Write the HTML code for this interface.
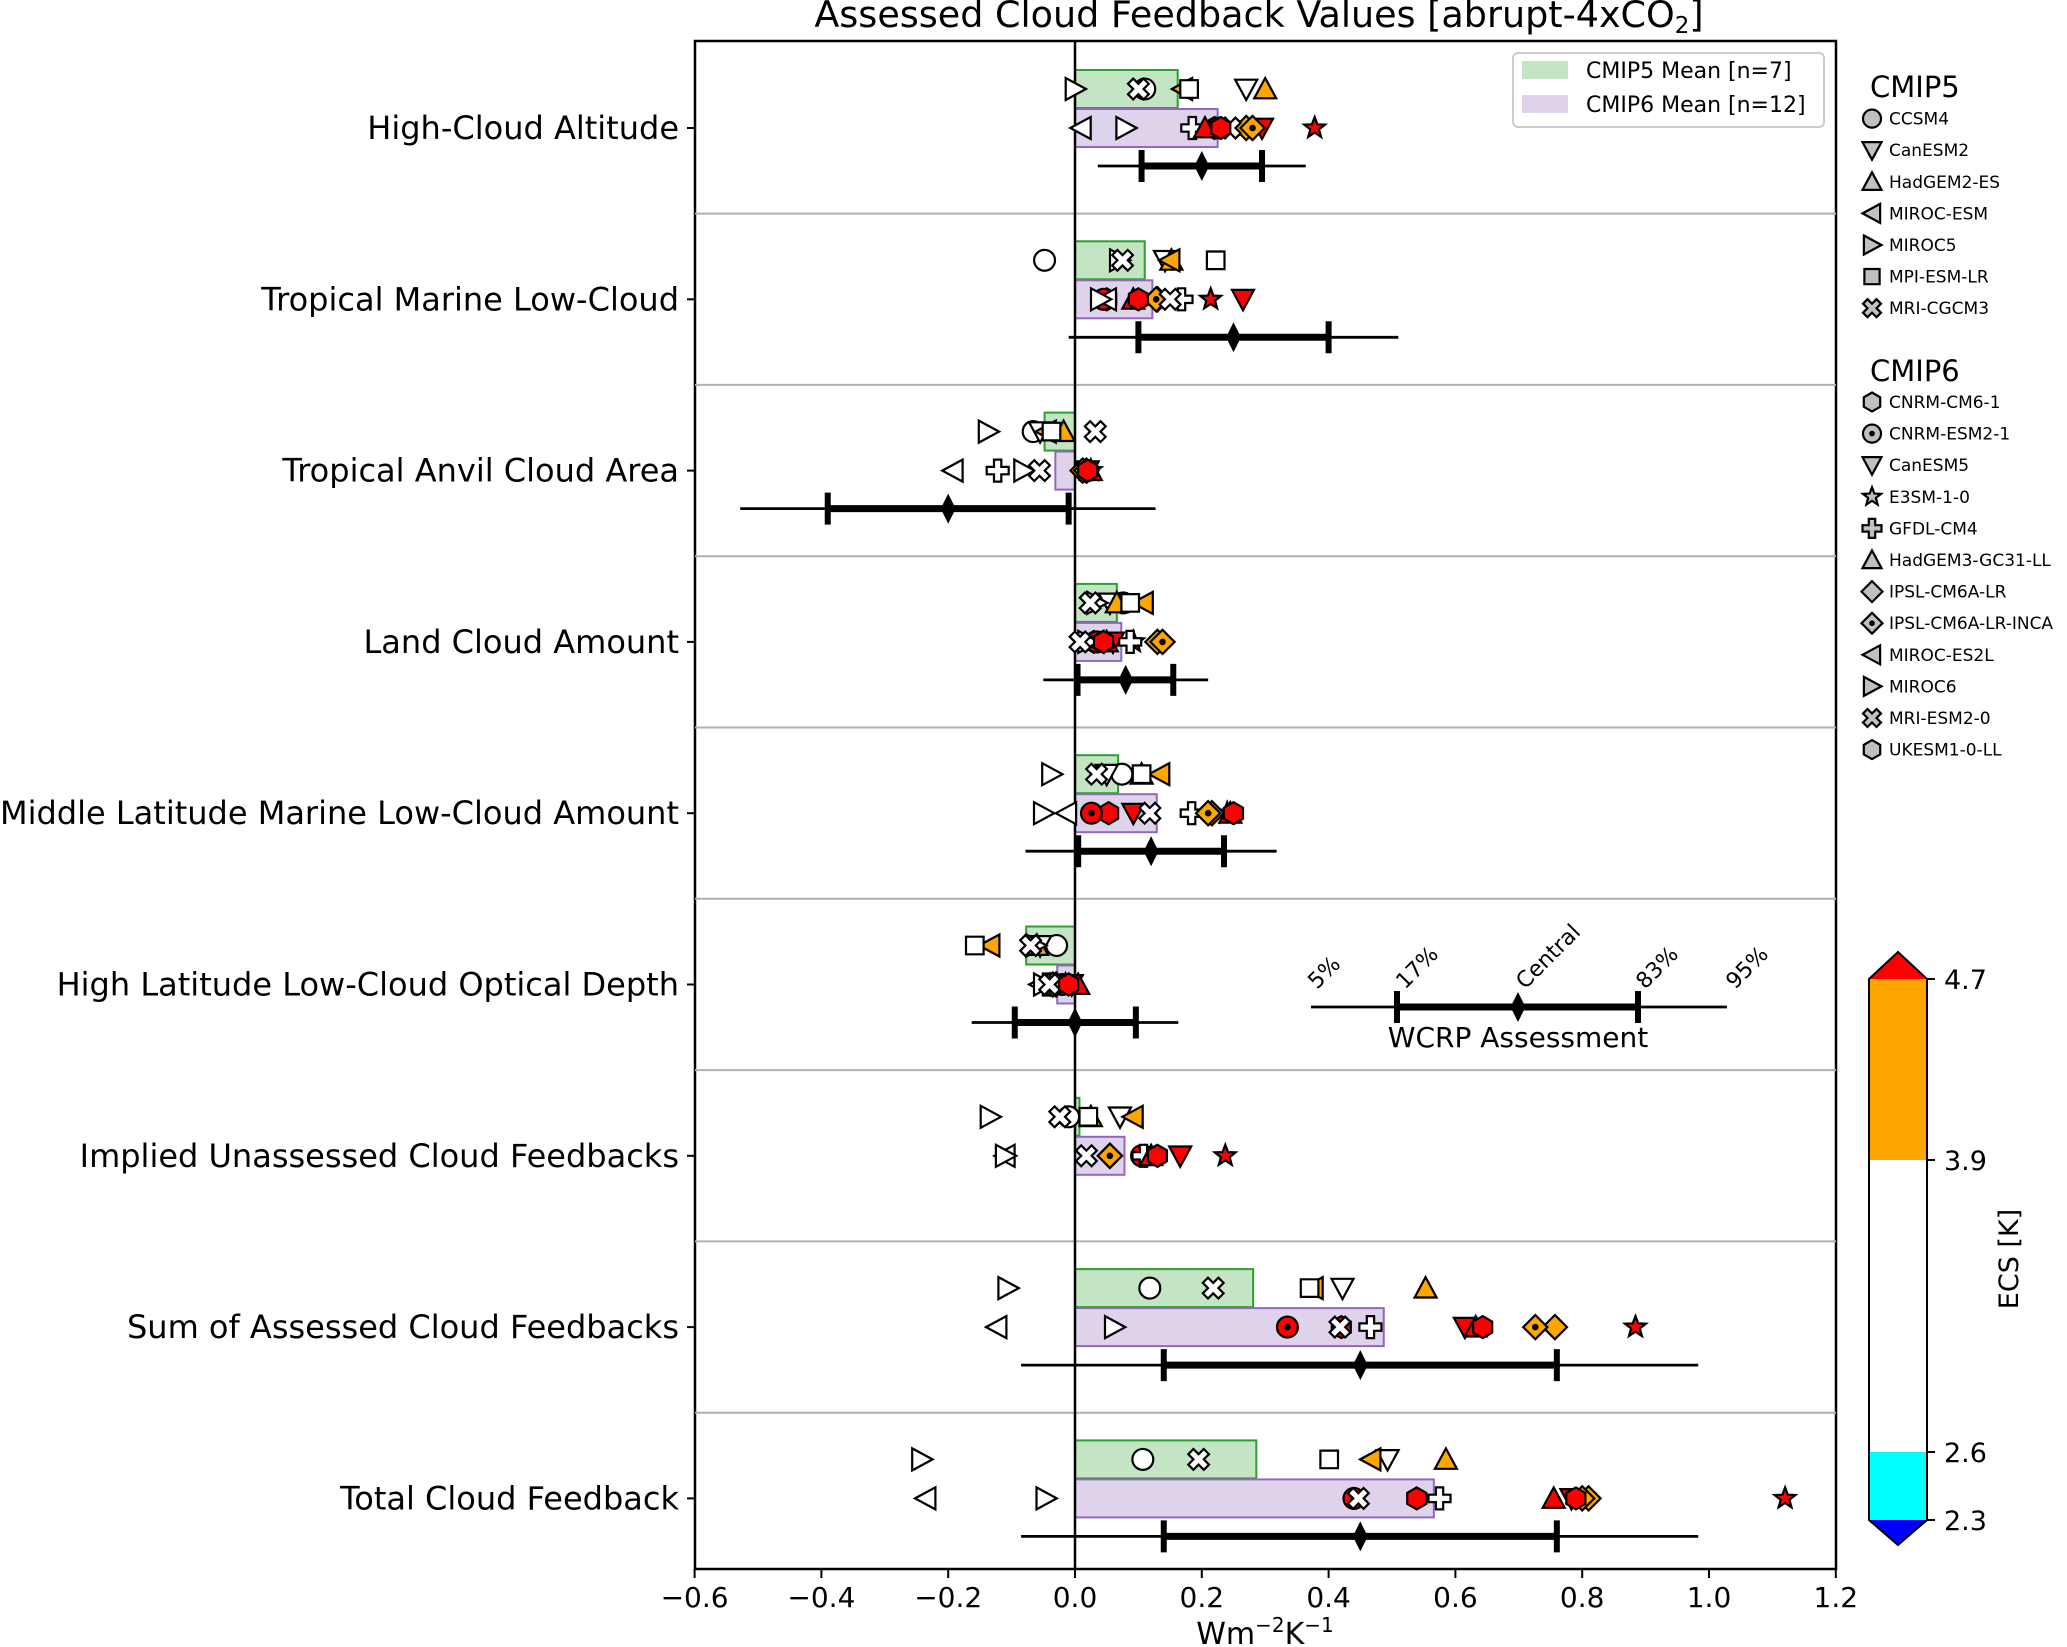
<!DOCTYPE html>
<html><head><meta charset="utf-8"><style>
html,body{margin:0;padding:0;background:#fff;}
svg{display:block;font-family:"DejaVu Sans","Liberation Sans",sans-serif;}
</style></head><body>
<svg id="chart" width="2067" height="1647" viewBox="0 0 2067 1647" xmlns="http://www.w3.org/2000/svg">
<text x="1259" y="27" font-size="36.5" text-anchor="middle">Assessed Cloud Feedback Values [abrupt-4xCO<tspan font-size="23" dy="6">2</tspan><tspan dy="-6">]</tspan></text>
<g id="plot"></g>
<text x="1265" y="1644" font-size="30" text-anchor="middle">Wm<tspan font-size="20" dy="-12">−2</tspan><tspan dy="12">K</tspan><tspan font-size="20" dy="-12">−1</tspan></text>
</svg>
<script>
const categories=["High-Cloud Altitude","Tropical Marine Low-Cloud","Tropical Anvil Cloud Area","Land Cloud Amount","Middle Latitude Marine Low-Cloud Amount","High Latitude Low-Cloud Optical Depth","Implied Unassessed Cloud Feedbacks","Sum of Assessed Cloud Feedbacks","Total Cloud Feedback"];
const cmip5Models=["CCSM4","CanESM2","HadGEM2-ES","MIROC-ESM","MIROC5","MPI-ESM-LR","MRI-CGCM3"];
const cmip5Markers=["circle","tdown","tup","tleft","tright","square","x"];
const cmip5Ecs=[2.9,3.7,4.6,4.7,2.7,3.6,2.6];
const cmip6Models=["CNRM-CM6-1","CNRM-ESM2-1","CanESM5","E3SM-1-0","GFDL-CM4","HadGEM3-GC31-LL","IPSL-CM6A-LR","IPSL-CM6A-LR-INCA","MIROC-ES2L","MIROC6","MRI-ESM2-0","UKESM1-0-LL"];
const cmip6Markers=["hexagon","cdot","tdown","star","plus","tup","diamond","ddot","tleft","tright","x","hexagon"];
const cmip6Ecs=[4.8,4.8,5.6,5.3,3.9,5.6,4.6,4.1,2.7,2.6,3.1,5.4];
const c5HighAlt=[0.11,0.27,0.30,0.17,0.00,0.18,0.10];
const c5TropLow=[-0.048,0.142,0.152,0.150,0.070,0.222,0.075];
const c5Anvil=[-0.066,-0.055,-0.018,-0.045,-0.137,-0.037,0.032];
const c5Land=[0.076,0.055,0.066,0.108,0.034,0.087,0.024];
const c5MidLat=[0.074,0.050,0.105,0.134,-0.037,0.105,0.034];
const c5HiLat=[-0.029,-0.055,-0.06,-0.134,-0.062,-0.158,-0.07];
const c5Unassessed=[-0.01,0.071,0.025,0.092,-0.134,0.021,-0.024];
const c5Sum=[0.118,0.422,0.553,0.376,-0.106,0.37,0.218];
const c5Total=[0.107,0.493,0.585,0.467,-0.242,0.401,0.195];
const c6HighAlt=[0.22,0.225,0.295,0.378,0.185,0.205,0.27,0.28,0.01,0.08,0.245,0.23];
const c6TropLow=[0.05,0.045,0.265,0.214,0.168,0.092,0.13,0.128,0.05,0.04,0.15,0.10];
const c6Anvil=[0.015,0.02,0.02,0.025,-0.122,0.025,0.012,0.018,-0.192,-0.081,-0.056,0.02];
const c6Land=[0.03,0.035,0.06,0.092,0.087,0.05,0.13,0.138,0.03,0.02,0.008,0.045];
const c6MidLat=[0.053,0.026,0.092,0.24,0.184,0.245,0.216,0.21,-0.013,-0.05,0.118,0.25];
const c6HiLat=[-0.01,-0.02,-0.005,-0.015,-0.045,0.005,-0.03,-0.035,-0.055,-0.05,-0.04,-0.01];
const c6Unassessed=[0.11,0.105,0.166,0.237,0.108,0.12,0.055,0.055,-0.11,-0.11,0.018,0.13];
const c6Sum=[0.42,0.335,0.615,0.884,0.466,0.632,0.757,0.726,-0.123,0.062,0.418,0.643];
const c6Total=[0.539,0.44,0.783,1.12,0.575,0.755,0.81,0.80,-0.235,-0.046,0.447,0.79];
const cmip5Values=[c5HighAlt,c5TropLow,c5Anvil,c5Land,c5MidLat,c5HiLat,c5Unassessed,c5Sum,c5Total];
const cmip6Values=[c6HighAlt,c6TropLow,c6Anvil,c6Land,c6MidLat,c6HiLat,c6Unassessed,c6Sum,c6Total];
const cmip5Means=[0.162,0.110,-0.048,0.066,0.068,-0.077,0.007,0.281,0.286];
const cmip6Means=[0.225,0.122,-0.031,0.073,0.129,-0.028,0.078,0.487,0.566];
const wcrpCentral=[0.20,0.25,-0.20,0.08,0.12,0.00,null,0.45,0.45];
const wcrpLikelyLo=[0.105,0.10,-0.39,0.004,0.005,-0.095,null,0.14,0.14];
const wcrpLikelyHi=[0.295,0.40,-0.01,0.155,0.235,0.096,null,0.76,0.76];
const wcrpVeryLo=[0.036,-0.01,-0.528,-0.05,-0.078,-0.163,null,-0.085,-0.085];
const wcrpVeryHi=[0.364,0.51,0.127,0.21,0.318,0.163,null,0.983,0.983];
const xTicks=[-0.6,-0.4,-0.2,0.0,0.2,0.4,0.6,0.8,1.0,1.2];
const ecsTicks=[2.3,2.6,3.9,4.7];

const NS="http://www.w3.org/2000/svg";
const plot=document.getElementById('plot');
const L=695,R=1836,T=41,B=1569;
const x=v=>1075+v*634;
const rowY=i=>128+i*171.3;
function el(tag,attrs,parent){const e=document.createElementNS(NS,tag);for(const k in attrs)e.setAttribute(k,attrs[k]);(parent||plot).appendChild(e);return e;}
function ecsColor(e){if(e<2.6)return"#00ffff";if(e<=3.9)return"#ffffff";if(e<=4.7)return"#ffa500";return"#ff0000";}
function poly(pts,cx,cy,s){return pts.map(p=>(cx+p[0]*s).toFixed(1)+","+(cy+p[1]*s).toFixed(1)).join(" ");}
const plusPts=[[-1/3,-1],[1/3,-1],[1/3,-1/3],[1,-1/3],[1,1/3],[1/3,1/3],[1/3,1],[-1/3,1],[-1/3,1/3],[-1,1/3],[-1,-1/3],[-1/3,-1/3]];
const xPts=plusPts.map(p=>{const c=Math.SQRT1_2;return[(p[0]-p[1])*c,(p[0]+p[1])*c];});
function starPts(){const a=[];for(let i=0;i<10;i++){const r=i%2?0.42:1,t=-Math.PI/2+i*Math.PI/5;a.push([r*Math.cos(t),r*Math.sin(t)]);}return a;}
function hexPts(){const a=[];for(let i=0;i<6;i++){const t=-Math.PI/2+i*Math.PI/3;a.push([Math.cos(t),Math.sin(t)]);}return a;}
function drawMarker(type,cx,cy,r,fill,g){
  const st={fill:fill,stroke:"#000","stroke-width":2.2};
  let m;
  const P=pts=>el('polygon',Object.assign({points:poly(pts,cx,cy,r)},st),g);
  if(type==="circle"){m=el('circle',Object.assign({cx:cx,cy:cy,r:r*0.95},st),g);}
  else if(type==="cdot"){m=el('circle',Object.assign({cx:cx,cy:cy,r:r*0.95},st),g);el('circle',{cx:cx,cy:cy,r:r*0.3,fill:"#000"},g);}
  else if(type==="tdown")m=P([[-1,-0.85],[1,-0.85],[0,1]]);
  else if(type==="tup")m=P([[0,-1],[1,0.85],[-1,0.85]]);
  else if(type==="tleft")m=P([[-1,0],[0.85,-1],[0.85,1]]);
  else if(type==="tright")m=P([[1,0],[-0.85,-1],[-0.85,1]]);
  else if(type==="square")m=P([[-0.8,-0.8],[0.8,-0.8],[0.8,0.8],[-0.8,0.8]]);
  else if(type==="x")m=P(xPts);
  else if(type==="plus")m=P(plusPts);
  else if(type==="star")m=P(starPts());
  else if(type==="hexagon")m=P(hexPts());
  else if(type==="diamond")m=P([[0,-1.1],[1.1,0],[0,1.1],[-1.1,0]]);
  else if(type==="ddot"){m=P([[0,-1.1],[1.1,0],[0,1.1],[-1.1,0]]);el('circle',{cx:cx,cy:cy,r:r*0.3,fill:"#000"},g);}
  return m;
}
el('rect',{x:L,y:T,width:R-L,height:B-T,fill:"none",stroke:"#000","stroke-width":2.5,});
for(let i=0;i<categories.length;i++){
  const cy=rowY(i);
  if(i<categories.length-1){const s=el('line',{x1:L,x2:R,y1:cy+85.6,y2:cy+85.6,stroke:"#b0b0b0","stroke-width":2});
    }
  el('line',{x1:L-8,x2:L,y1:cy,y2:cy,stroke:"#000","stroke-width":2});
  const t=el('text',{x:679,y:cy+11,'font-size':32,'text-anchor':'end'});t.textContent=categories[i];
  
  
}
xTicks.forEach(v=>{
  el('line',{x1:x(v),x2:x(v),y1:B,y2:B+9,stroke:"#000","stroke-width":2});
  const t=el('text',{x:x(v),y:1607,'font-size':28,'text-anchor':'middle'});
  t.textContent=(v<0?"−":"")+Math.abs(v).toFixed(1);
  
  
});
for(let i=0;i<categories.length;i++){
  const cy=rowY(i);
  const b5=el('rect',{x:Math.min(x(0),x(cmip5Means[i])),y:cy-39-19,width:Math.abs(x(cmip5Means[i])-x(0)),height:38,fill:"#c3e5c3",stroke:"#2ca02c","stroke-width":2});
  
  
  const b6=el('rect',{x:Math.min(x(0),x(cmip6Means[i])),y:cy-19,width:Math.abs(x(cmip6Means[i])-x(0)),height:38,fill:"#dfd3ec",stroke:"#9467bd","stroke-width":2});
  
  
}
el('line',{x1:x(0),x2:x(0),y1:T,y2:B,stroke:"#000","stroke-width":2.5,});
function wcrp(c,lo,hi,vlo,vhi,cy,g){
  el('line',{x1:x(vlo),x2:x(vhi),y1:cy,y2:cy,stroke:"#000","stroke-width":2.8},g);
  el('line',{x1:x(lo),x2:x(hi),y1:cy,y2:cy,stroke:"#000","stroke-width":7},g);
  el('line',{x1:x(lo),x2:x(lo),y1:cy-16,y2:cy+16,stroke:"#000","stroke-width":6},g);
  el('line',{x1:x(hi),x2:x(hi),y1:cy-16,y2:cy+16,stroke:"#000","stroke-width":6},g);
  el('polygon',{points:poly([[0,-15],[7.5,0],[0,15],[-7.5,0]],x(c),cy,1),fill:"#000"},g);
}
for(let i=0;i<categories.length;i++){
  if(wcrpCentral[i]===null)continue;
  const g=el('g',{});
  
  
  wcrp(wcrpCentral[i],wcrpLikelyLo[i],wcrpLikelyHi[i],wcrpVeryLo[i],wcrpVeryHi[i],rowY(i)+38,g);
}
for(let i=0;i<categories.length;i++){
  const cy=rowY(i);
  cmip5Values[i].forEach((v,j)=>{
    const m=drawMarker(cmip5Markers[j],x(v),cy-39,11,ecsColor(cmip5Ecs[j]),plot);
    
    
  });
  cmip6Values[i].forEach((v,j)=>{
    const m=drawMarker(cmip6Markers[j],x(v),cy,11,ecsColor(cmip6Ecs[j]),plot);
    
    
  });
}
const lg=el('g',{});


el('rect',{x:1513,y:53,width:311,height:74,rx:5,fill:"#fff",stroke:"#ccc","stroke-width":2},lg);
el('rect',{x:1522,y:61,width:46,height:18,fill:"#c3e5c3"},lg);
el('rect',{x:1522,y:95,width:46,height:18,fill:"#dfd3ec"},lg);
let t=el('text',{x:1586,y:78,'font-size':22},lg);t.textContent="CMIP5 Mean [n=7]";
t=el('text',{x:1586,y:112,'font-size':22},lg);t.textContent="CMIP6 Mean [n=12]";
function modelLegend(title,ty,y0,models,markers){
  const g=el('g',{});
  
  
  const h=el('text',{x:1870,y:ty,'font-size':29},g);h.textContent=title;
  models.forEach((m,k)=>{
    const yy=y0+k*31.6;
    drawMarker(markers[k],1872,yy,9.5,"#c0c0c0",g);
    const tx=el('text',{x:1889,y:yy+6,'font-size':17},g);tx.textContent=m;
  });
}
modelLegend("CMIP5",97,118.6,cmip5Models,cmip5Markers);
modelLegend("CMIP6",381,402,cmip6Models,cmip6Markers);
const cbY=v=>{const s=[[2.3,1520],[2.6,1452],[3.9,1160],[4.7,979]];for(let k=0;k<3;k++){if(v<=s[k+1][0]){const a=s[k],b=s[k+1];return a[1]+(v-a[0])/(b[0]-a[0])*(b[1]-a[1]);}}return 979;};
const cb=el('g',{});


el('rect',{x:1869,y:cbY(4.7),width:58,height:cbY(3.9)-cbY(4.7),fill:"#ffa500"},cb);
el('rect',{x:1869,y:cbY(3.9),width:58,height:cbY(2.6)-cbY(3.9),fill:"#fff"},cb);
el('rect',{x:1869,y:cbY(2.6),width:58,height:cbY(2.3)-cbY(2.6),fill:"#00ffff"},cb);
el('polygon',{points:`1869,${cbY(4.7)} 1898,952 1927,${cbY(4.7)}`,fill:"#ff0000"},cb);
el('polygon',{points:`1869,${cbY(2.3)} 1898,1545 1927,${cbY(2.3)}`,fill:"#0000ff"},cb);
el('polygon',{points:`1869,${cbY(4.7)} 1898,952 1927,${cbY(4.7)} 1927,${cbY(2.3)} 1898,1545 1869,${cbY(2.3)}`,fill:"none",stroke:"#000","stroke-width":2},cb);
ecsTicks.forEach(v=>{
  el('line',{x1:1927,x2:1935,y1:cbY(v),y2:cbY(v),stroke:"#000","stroke-width":2},cb);
  const tt=el('text',{x:1944,y:cbY(v)+10,'font-size':27},cb);tt.textContent=v.toFixed(1);
});
t=el('text',{x:2018,y:1259,'font-size':27,'text-anchor':'middle',transform:'rotate(-90 2018 1259)'},cb);t.textContent="ECS [K]";
const ins=el('g',{});


el('line',{x1:1311,x2:1727,y1:1007,y2:1007,stroke:"#000","stroke-width":2.8},ins);
el('line',{x1:1397,x2:1638,y1:1007,y2:1007,stroke:"#000","stroke-width":7},ins);
el('line',{x1:1397,x2:1397,y1:991,y2:1023,stroke:"#000","stroke-width":6},ins);
el('line',{x1:1638,x2:1638,y1:991,y2:1023,stroke:"#000","stroke-width":6},ins);
el('polygon',{points:poly([[0,-15],[7.5,0],[0,15],[-7.5,0]],1518,1007,1),fill:"#000"},ins);
[["5%",1317,990],["17%",1405,990],["Central",1525,990],["83%",1645,990],["95%",1735,990]].forEach(a=>{
  const tt=el('text',{x:a[1],y:a[2],'font-size':22,transform:`rotate(-45 ${a[1]} ${a[2]})`},ins);tt.textContent=a[0];
});
t=el('text',{x:1518,y:1047,'font-size':28,'text-anchor':'middle'},ins);t.textContent="WCRP Assessment";
</script>
</body></html>
